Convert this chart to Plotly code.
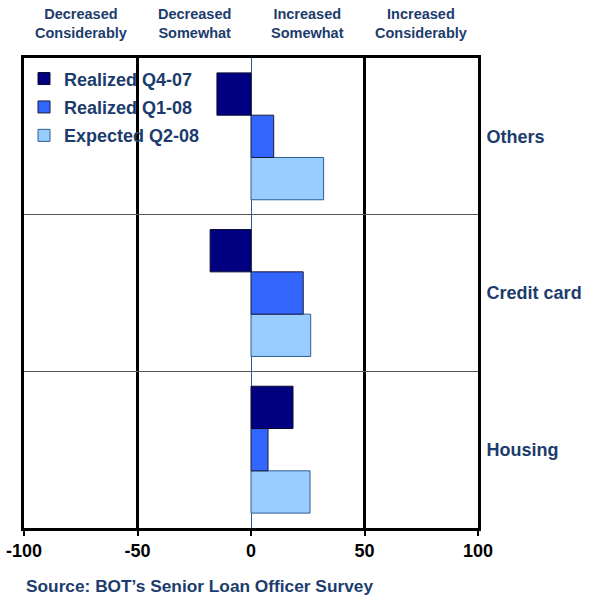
import plotly.graph_objects as go

categories = ["Housing", "Credit card", "Others"]
q4_07 = [18.5, -18, -15]
q1_08 = [7.5, 23, 10]
q2_08 = [26, 26.3, 32]
series_names = ["Realized Q4-07", "Realized Q1-08", "Expected Q2-08"]
x_ticks = [-100, -50, 0, 50, 100]
zone_centers = [-75, -25, 25, 75]
zone_labels = ["Decreased<br>Considerably", "Decreased<br>Somewhat",
               "Increased<br>Somewhat", "Increased<br>Considerably"]
source_text = "Source: BOT\u2019s Senior Loan Officer Survey"

NAVY = "#1b3c6c"
FONT = "Liberation Sans, Arial, sans-serif"

fig = go.Figure()
# added in reverse so Q4-07 sits on top within each group
specs = [
    (series_names[2], q2_08, "#99ccff", "#2f5f8f", 3),
    (series_names[1], q1_08, "#3366ff", "#1a1a3a", 2),
    (series_names[0], q4_07, "#000080", "#0a0a30", 1),
]
for name, vals, fill, edge, rank in specs:
    fig.add_trace(go.Bar(
        y=categories, x=vals, name=name, orientation="h",
        marker=dict(color=fill, line=dict(color=edge, width=1)),
        legendgroup=name, legendrank=rank,
    ))

for xc, lab in zip(zone_centers, zone_labels):
    fig.add_annotation(x=xc, y=1, xref="x", yref="paper", yanchor="bottom",
                       yshift=15, text=lab, showarrow=False,
                       font=dict(family=FONT, size=14.5, color=NAVY))

fig.add_annotation(x=0, y=0, xref="paper", yref="paper", xanchor="left",
                   yanchor="top", xshift=0, yshift=-46, text="<b>" + source_text + "</b>",
                   showarrow=False, font=dict(family=FONT, size=17.3, color=NAVY))

fig.update_layout(
    width=589, height=599,
    margin=dict(l=24, r=111, t=58, b=71, autoexpand=False),
    paper_bgcolor="white", plot_bgcolor="white",
    barmode="group", bargap=0.19, bargroupgap=0,
    font=dict(family=FONT, size=16, color=NAVY, weight="bold"),
    showlegend=True,
    legend=dict(x=0.0, y=0.995, xanchor="left", yanchor="top",
                traceorder="grouped", tracegroupgap=2,
                bgcolor="rgba(0,0,0,0)",
                font=dict(family=FONT, size=18, color=NAVY, weight="bold")),
    xaxis=dict(range=[-100, 100], tickvals=x_ticks, ticktext=[str(v) for v in x_ticks],
               showgrid=False, zeroline=True, zerolinecolor="#2b5a88", zerolinewidth=1,
               showline=True, linecolor="black", linewidth=2.5, mirror=True,
               ticks="outside", ticklen=5, tickwidth=2, tickcolor="black",
               automargin=False,
               tickfont=dict(family=FONT, size=18, color="black", weight="bold"),
               minor=dict(tickmode="array", tickvals=[-50, 50], showgrid=True,
                          gridcolor="black", gridwidth=3, ticks="")),
    yaxis=dict(categoryorder="array", categoryarray=categories, side="right",
               tickson="boundaries", showgrid=True, gridcolor="#555555", gridwidth=1,
               ticks="", showline=True, linecolor="black", linewidth=3, mirror=True,
               ticklabelstandoff=2, automargin=False,
               tickfont=dict(family=FONT, size=18, color=NAVY, weight="bold")),
)

fig.write_html("out.html", config={"displayModeBar": False},
               post_script="document.body.style.margin='0px';document.body.style.overflow='hidden';")
